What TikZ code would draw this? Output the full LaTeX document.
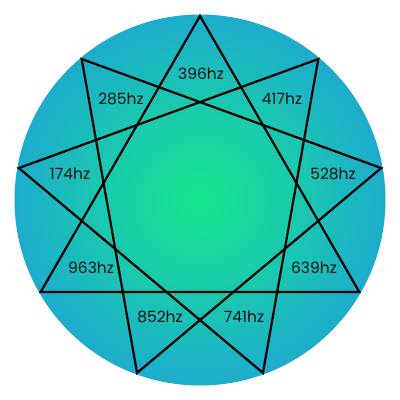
\documentclass[tikz,border=0pt]{standalone}
\usepackage{fontspec}
\setmainfont{Poppins}
\definecolor{ctrgreen}{RGB}{22,232,140}
\definecolor{edgeteal}{RGB}{29,172,205}
\pgfdeclareradialshading{glow}{\pgfpoint{0bp}{0bp}}{color(0bp)=(ctrgreen); color(25bp)=(edgeteal); color(50bp)=(edgeteal)}
\tikzset{
  star/.style={draw=black, line width=2.2pt, line join=miter},
  hz/.style={font=\fontsize{15.5}{17}\selectfont, text=black!92, inner sep=0pt}
}
\begin{document}
\begin{tikzpicture}[x=1pt,y=-1pt]
\useasboundingbox (0,0) rectangle (400,400);
\fill[white] (0,0) rectangle (400,400);
\shade[shading=glow] (200,200) circle[radius=185.5];
\foreach \i in {0,...,8}{
  \coordinate (v\i) at ({200+184*cos(90-40*\i)},{200-184*sin(90-40*\i)});
}
\draw[star] (v0) -- (v3) -- (v6) -- cycle;
\draw[star] (v1) -- (v4) -- (v7) -- cycle;
\draw[star] (v2) -- (v5) -- (v8) -- cycle;
\node[hz] (l396) at (201,74) {396hz};
\node[hz] (l417) at (282,99) {417hz};
\node[hz] (l528) at (333,174) {528hz};
\node[hz] (l639) at (314,268) {639hz};
\node[hz] (l741) at (244,317) {741hz};
\node[hz] (l852) at (160,317) {852hz};
\node[hz] (l963) at (91,268) {963hz};
\node[hz] (l174) at (70,174) {174hz};
\node[hz] (l285) at (121,99) {285hz};
\end{tikzpicture}
\end{document}
